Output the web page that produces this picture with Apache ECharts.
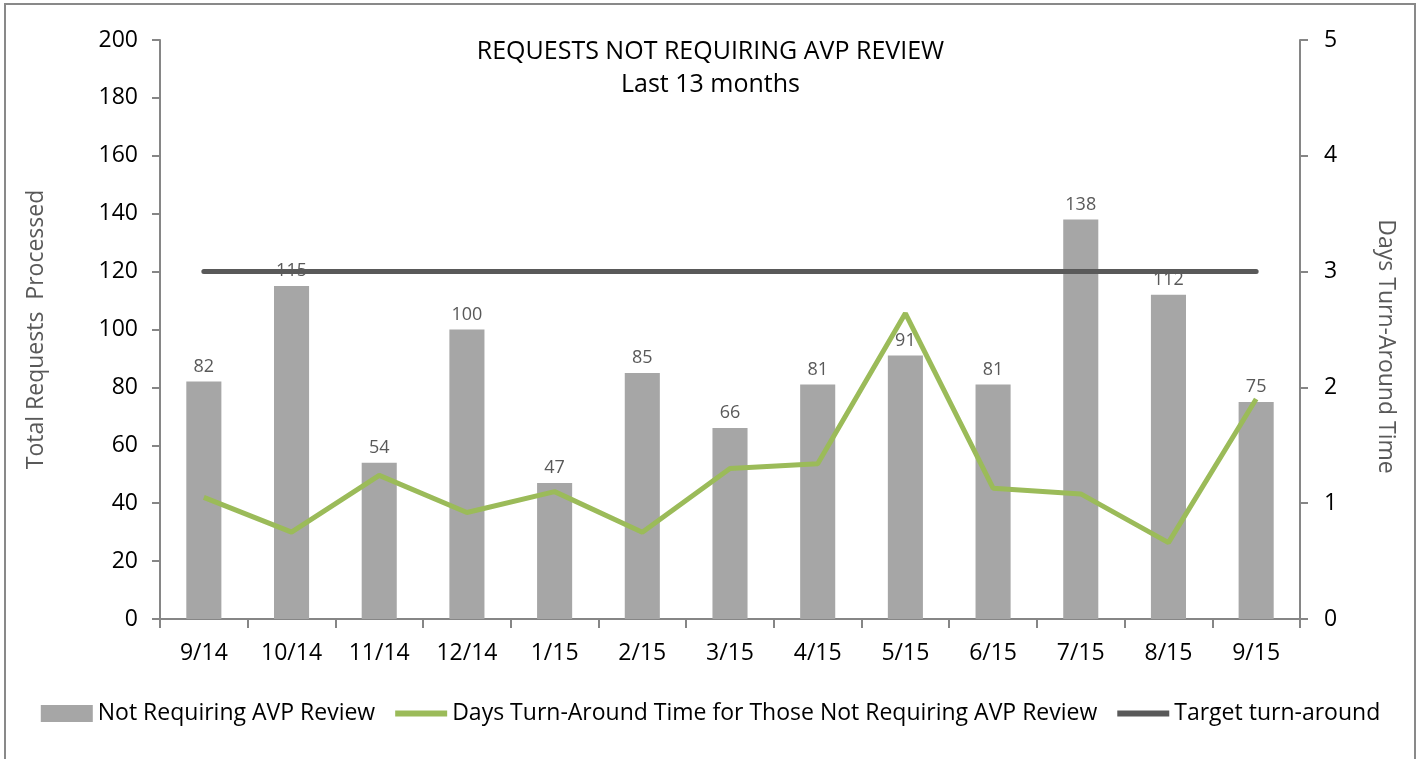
<!DOCTYPE html>
<html>
<head>
<meta charset="utf-8">
<script src="https://cdn.jsdelivr.net/npm/echarts@6/dist/echarts.min.js"></script>
<style>
  html, body { margin: 0; padding: 0; background: #fff; }
  #main { width: 1421px; height: 759px; }
</style>
</head>
<body>
<div id="main"></div>
<script>
// Chart data
var months = ['9/14', '10/14', '11/14', '12/14', '1/15', '2/15', '3/15', '4/15', '5/15', '6/15', '7/15', '8/15', '9/15'];
var requests = [82, 115, 54, 100, 47, 85, 66, 81, 91, 81, 138, 112, 75];
var turnAroundDays = [1.05, 0.75, 1.24, 0.92, 1.10, 0.75, 1.30, 1.34, 2.64, 1.13, 1.08, 0.66, 1.90];
var targetDays = [3, 3, 3, 3, 3, 3, 3, 3, 3, 3, 3, 3, 3];

var font = 'Open Sans';
// thick flat line for the legend, padded so it sits in the middle of the icon box
var lineIcon = 'path://M0,0h0.01v0.01h-0.01Z M0,5.5H52V11.5H0Z M0,17h0.01v0.01h-0.01Z';

var chart = echarts.init(document.getElementById('main'));

var option = {
  animation: false,
  textStyle: { fontFamily: font },
  title: {
    text: 'REQUESTS NOT REQUIRING AVP REVIEW\nLast 13 months',
    left: 'center',
    top: 30,
    textStyle: { fontFamily: font, fontSize: 25, fontWeight: 'normal', color: '#000', lineHeight: 33 }
  },
  graphic: [{
    type: 'rect',
    shape: { x: 5, y: 4, width: 1410, height: 780 },
    style: { fill: 'none', stroke: '#898989', lineWidth: 2 }
  }],
  legend: {
    bottom: 29,
    left: 'center',
    itemWidth: 52,
    itemHeight: 17,
    itemGap: 20,
    textStyle: { fontFamily: font, fontSize: 23, color: '#000' },
    data: [
      { name: 'Not Requiring AVP Review', icon: 'rect' },
      { name: 'Days Turn-Around Time for Those Not Requiring AVP Review', icon: lineIcon },
      { name: 'Target turn-around', icon: lineIcon }
    ]
  },
  grid: { left: 160, right: 121, top: 40, bottom: 140 },
  xAxis: {
    type: 'category',
    data: months,
    boundaryGap: true,
    axisLine: { lineStyle: { color: '#868686', width: 2 } },
    axisTick: { show: true, length: 9, lineStyle: { color: '#868686', width: 2 } },
    axisLabel: { color: '#000', fontSize: 23, margin: 23 }
  },
  yAxis: [{
    type: 'value',
    min: 0, max: 200, interval: 20,
    name: 'Total Requests  Processed',
    nameLocation: 'middle',
    nameGap: 112,
    nameTextStyle: { color: '#595959', fontSize: 23 },
    axisLine: { show: true, lineStyle: { color: '#868686', width: 2 } },
    axisTick: { show: true, length: 8, lineStyle: { color: '#868686', width: 2 } },
    axisLabel: { color: '#000', fontSize: 23, margin: 22 },
    splitLine: { show: false }
  }, {
    type: 'value',
    min: 0, max: 5, interval: 1,
    name: 'Days Turn-Around Time',
    nameLocation: 'middle',
    nameGap: 74,
    nameRotate: -90,
    nameTextStyle: { color: '#595959', fontSize: 23, padding: [0, 0, 0, 34] },
    axisLine: { show: true, lineStyle: { color: '#868686', width: 2 } },
    axisTick: { show: true, length: 8, lineStyle: { color: '#868686', width: 2 } },
    axisLabel: { color: '#000', fontSize: 23, margin: 24 },
    splitLine: { show: false }
  }],
  series: [{
    name: 'Not Requiring AVP Review',
    type: 'bar',
    data: requests,
    barWidth: '40%',
    itemStyle: { color: '#a6a6a6' },
    label: { show: true, position: 'top', distance: 6, color: '#595959', fontSize: 18 }
  }, {
    name: 'Days Turn-Around Time for Those Not Requiring AVP Review',
    type: 'line',
    yAxisIndex: 1,
    data: turnAroundDays,
    showSymbol: false,
    symbol: 'none',
    itemStyle: { color: '#9bbb59' },
    lineStyle: { color: '#9bbb59', width: 5 }
  }, {
    name: 'Target turn-around',
    type: 'line',
    yAxisIndex: 1,
    data: targetDays,
    showSymbol: false,
    symbol: 'none',
    itemStyle: { color: '#595959' },
    lineStyle: { color: '#595959', width: 5, cap: 'round' }
  }]
};

chart.setOption(option);
</script>
</body>
</html>
